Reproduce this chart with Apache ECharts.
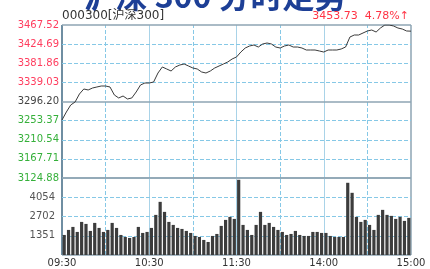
<!DOCTYPE html>
<html>
<head>
<meta charset="utf-8">
<title>沪深300分时走势</title>
<script src="https://cdn.jsdelivr.net/npm/echarts@6/dist/echarts.min.js"></script>
<style>
html, body { margin: 0; padding: 0; background: #fff; }
#main { width: 430px; height: 269px; }
</style>
</head>
<body>
<div id="main"></div>
<script>
// price scale, bottom to top; the middle one is the previous close
var priceTicks = ['3124.88', '3167.71', '3210.54', '3253.37', '3296.20', '3339.03', '3381.86', '3424.69', '3467.52'];
var volumeTicks = ['0', '1351', '2702', '4054', '5405'];
var lastPrice = '3453.73';
var changePct = '4.78%';

// one point every 3 minutes, 09:30 .. 11:30, 13:00 .. 15:00
var prices = [
    3254.8, 3272.7, 3288.4, 3295.1, 3313.0, 3324.2, 3322.0, 3326.4, 3328.7, 3330.9,
    3330.9, 3328.7, 3310.8, 3304.1, 3308.5, 3301.8, 3304.1, 3317.5, 3333.2, 3337.6,
    3337.6, 3339.9, 3360.0, 3373.5, 3369.0, 3364.5, 3373.5, 3377.9, 3380.2, 3375.7,
    3371.2, 3369.0, 3362.3, 3360.0, 3364.5, 3371.2, 3375.7, 3380.2, 3384.7, 3391.4,
    3395.9, 3407.0, 3416.0, 3420.5, 3422.7, 3418.2, 3425.0, 3427.2, 3425.0, 3418.2,
    3416.0, 3420.5, 3422.7, 3418.2, 3418.2, 3416.0, 3411.5, 3411.5, 3411.5, 3409.3,
    3407.0, 3411.5, 3411.5, 3411.5, 3413.8, 3418.2, 3440.6, 3445.1, 3445.1, 3449.6,
    3454.1, 3456.3, 3451.8, 3460.8, 3467.5, 3467.5, 3465.3, 3460.8, 3458.5, 3454.1,
    3453.73
];

// volume bars, one per 3 minutes
var volumes = [
    1408, 1760, 1971, 1619, 2323, 2182, 1690, 2253, 1901, 1619,
    1760, 2253, 1901, 1408, 1267, 1197, 1267, 1971, 1549, 1619,
    1901, 2816, 3731, 3027, 2323, 2112, 1901, 1830, 1690, 1549,
    1338, 1267, 1056, 915, 1338, 1478, 2042, 2464, 2675, 2534,
    5280, 2112, 1760, 1408, 2112, 3027, 2112, 2253, 1971, 1760,
    1619, 1408, 1478, 1690, 1408, 1338, 1338, 1619, 1619, 1549,
    1549, 1338, 1267, 1267, 1267, 5069, 4365, 2675, 2323, 2464,
    2112, 1760, 2816, 3168, 2816, 2746, 2534, 2675, 2394, 2605
];

var times = [];
for (var i = 0; i <= 80; i++) {
    var m = i <= 40 ? 9 * 60 + 30 + i * 3 : 13 * 60 + (i - 40) * 3;
    var hh = Math.floor(m / 60), mm = m % 60;
    times.push((hh < 10 ? '0' : '') + hh + ':' + (mm < 10 ? '0' : '') + mm);
}
// x runs over the 80 three-minute slots; a bar sits in the middle of its slot
var priceData = prices.map(function (p, i) { return [i, p]; });
var volumeData = volumes.map(function (v, i) { return [i + 0.5, v]; });

var prevClose = parseFloat(priceTicks[4]);
var dashBlue = { color: '#86c8e6', width: 1, type: 'dashed' };
var solidBlue = { color: '#a9d3e8', width: 1, type: 'solid' };
var frameBlue = { color: '#8ea4b3', width: 1.5, type: 'solid' };
var leftFrame = { color: '#6f8ea2', width: 2, type: 'solid' };
var font = '"DejaVu Sans", "Noto Sans CJK SC", sans-serif';

// grid lines are drawn as mark lines, the axes only place data and labels
function vLines() {
    var out = [{ xAxis: 0, lineStyle: leftFrame }, { xAxis: 80, lineStyle: frameBlue }];
    for (var k = 10; k < 80; k += 10) {
        out.push({ xAxis: k, lineStyle: k % 20 === 0 ? solidBlue : dashBlue });
    }
    return out;
}
function hLines(ticks, solidIndex) {
    return ticks.map(function (t, k) {
        var edge = k === 0 || k === ticks.length - 1 || k === solidIndex;
        return { yAxis: parseFloat(t), lineStyle: edge ? frameBlue : dashBlue };
    });
}
function gridMarks(ticks, solidIndex) {
    return {
        silent: true, symbol: ['none', 'none'], label: { show: false },
        animation: false, z: 1,
        data: vLines().concat(hLines(ticks, solidIndex))
    };
}

function bareAxis(gridIndex, min, max, interval, label) {
    return {
        type: 'value', gridIndex: gridIndex, min: min, max: max, interval: interval,
        axisLine: { show: false }, axisTick: { show: false },
        axisLabel: label || { show: false }, splitLine: { show: false }
    };
}
function labelStyle(color) {
    return { color: color, fontSize: 10, fontFamily: font };
}

var myChart = echarts.init(document.getElementById('main'));

var option = {
    animation: false,
    grid: [
        { left: 62, top: 25, width: 349, height: 153 },
        { left: 62, top: 178, width: 349, height: 77 }
    ],
    xAxis: [
        bareAxis(0, 0, 80, 10),
        bareAxis(1, 0, 80, 10, {
            color: '#333', fontSize: 10, fontFamily: font, margin: 3,
            formatter: function (v) { return v % 20 === 0 ? times[v] : ''; }
        })
    ],
    yAxis: [
        bareAxis(0, 0, 8, 1, {               // price labels
            margin: 3, fontSize: 10, fontFamily: font, color: '#444',
            formatter: function (v) {
                var p = parseFloat(priceTicks[v]);
                var cls = p > prevClose + 0.001 ? 'up' : (p < prevClose - 0.001 ? 'dn' : 'eq');
                return '{' + cls + '|' + priceTicks[v] + '}';
            },
            rich: { up: labelStyle('#ff3d5e'), dn: labelStyle('#35b03a'), eq: labelStyle('#444') }
        }),
        bareAxis(0, parseFloat(priceTicks[0]), parseFloat(priceTicks[priceTicks.length - 1])),
        bareAxis(1, 0, 4, 1, {               // volume labels
            margin: 7, fontSize: 10, fontFamily: font, color: '#555',
            formatter: function (v) { return (v === 0 || v === volumeTicks.length - 1) ? '' : volumeTicks[v]; }
        }),
        bareAxis(1, 0, parseFloat(volumeTicks[volumeTicks.length - 1]))
    ],
    series: [
        {
            name: '沪深300', type: 'line', xAxisIndex: 0, yAxisIndex: 1,
            data: priceData, symbol: 'none',
            lineStyle: { color: '#3a3a3a', width: 1 }, z: 5,
            markLine: gridMarks(priceTicks, 4)
        },
        {
            name: '成交量', type: 'bar', xAxisIndex: 1, yAxisIndex: 3,
            data: volumeData, barWidth: 3.2,
            itemStyle: { color: '#3c3c3c' }, z: 5,
            markLine: gridMarks(volumeTicks, -1)
        }
    ],
    graphic: [
        {
            type: 'text', x: 215, y: -4,
            style: {
                text: '沪深 300 分时走势', fill: '#1d3f96',
                font: 'bold 32px "Noto Sans CJK SC", sans-serif',
                textAlign: 'center', textVerticalAlign: 'middle'
            }
        },
        {
            type: 'text', x: 62, y: 16,
            style: {
                text: '000300[沪深300]', fill: '#333',
                font: '12px ' + font, textAlign: 'left', textVerticalAlign: 'middle'
            }
        },
        {
            type: 'text', x: 409, y: 16,
            style: {
                text: lastPrice + '  ' + changePct + '↑', fill: '#ff3344',
                font: '11px ' + font, textAlign: 'right', textVerticalAlign: 'middle'
            }
        }
    ]
};

myChart.setOption(option);
</script>
</body>
</html>
